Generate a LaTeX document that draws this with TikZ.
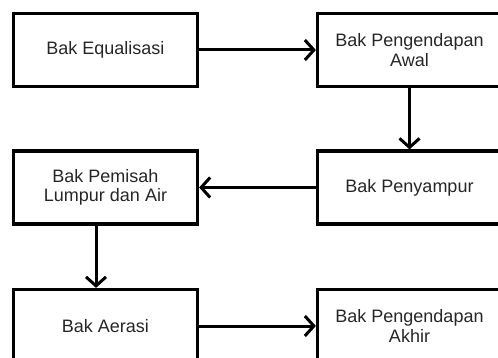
\documentclass[tikz,border=0pt]{standalone}
\usepackage{fontspec}
\setmainfont{Liberation Sans}
\usetikzlibrary{arrows.meta, positioning}

\begin{document}
\begin{tikzpicture}[x=1pt, y=-1pt,
  bak/.style={draw, line width=3.2pt, minimum width=184pt, minimum height=73pt,
    align=center, inner sep=0pt, text=black!85, font=\fontsize{18}{19.5}\selectfont},
  flow/.style={-{Straight Barb[length=9pt, width=20pt]}, line width=3pt}]
  \useasboundingbox (0,0) rectangle (498,358);
  \clip (0,0) rectangle (498,358);

  % Left column
  \node[bak] (equ) at (105.5,50) {Bak Equalisasi};
  \node[bak] (pem) at (105.5,187.5) {Bak Pemisah\\Lumpur dan Air};
  \node[bak] (aer) at (105.5,326) {Bak Aerasi};

  % Right column (cut at the page edge)
  \node[bak] (awal) at (409.5,50) {Bak Pengendapan\\Awal};
  \node[bak] (pny) at (409.5,187.5) {Bak Penyampur};
  \node[bak] (akh) at (409.5,326) {Bak Pengendapan\\Akhir};

  % Flow
  \draw[flow] (equ) -- (awal);
  \draw[flow] (awal) -- (pny);
  \draw[flow] (pny) -- (pem);
  \draw[flow] ([xshift=-9.5pt]pem.south) -- ([xshift=-9.5pt]aer.north);
  \draw[flow] (aer) -- (akh);
\end{tikzpicture}
\end{document}
